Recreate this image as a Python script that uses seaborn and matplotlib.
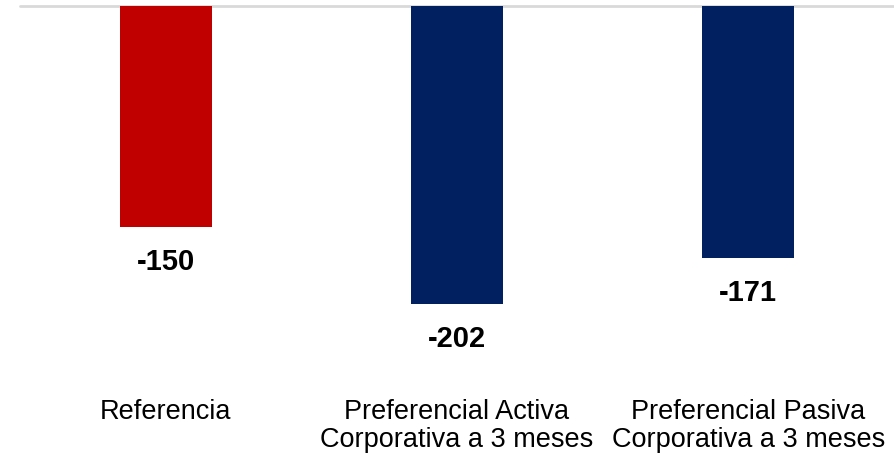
import matplotlib
matplotlib.use("Agg")
import matplotlib.pyplot as plt
import seaborn as sns
import pandas as pd

categories = ["Referencia",
              "Preferencial Activa\nCorporativa a 3 meses",
              "Preferencial Pasiva\nCorporativa a 3 meses"]
values = [-150, -202, -171]
colors = ["#C00000", "#002060", "#002060"]

sns.set_theme(style="white")
plt.rcParams['font.family'] = ['Liberation Sans', 'DejaVu Sans']

df = pd.DataFrame({"cat": categories, "val": values})

fig = plt.figure(figsize=(8.94, 4.55), dpi=100)
ax = fig.add_axes([20/894, 1 - 374.3/455, 874/894, 368.3/455])

sns.barplot(data=df, x="cat", y="val", hue="cat", palette=colors,
            width=0.316, legend=False, ax=ax, saturation=1, linewidth=0)

ax.set_xlim(-0.5, 2.5)
ax.set_ylim(-250, 0)
ax.axhline(0, color="#d9d9d9", lw=2, clip_on=False, zorder=0)

for i, v in enumerate(values):
    ax.annotate(f"{v:d}", xy=(i, v), xytext=(0, -25.5), textcoords="offset points",
                ha="center", va="center", fontsize=21, fontweight="bold",
                color="black")

ax.set_xticks(range(len(categories)))
ax.set_xticklabels(categories, fontsize=19.5, linespacing=1.1, color="#000000")
ax.tick_params(axis="x", length=0, pad=18)
ax.set_yticks([])
ax.set_xlabel("")
ax.set_ylabel("")
for s in ax.spines.values():
    s.set_visible(False)

fig.savefig("out.png", dpi=100)
